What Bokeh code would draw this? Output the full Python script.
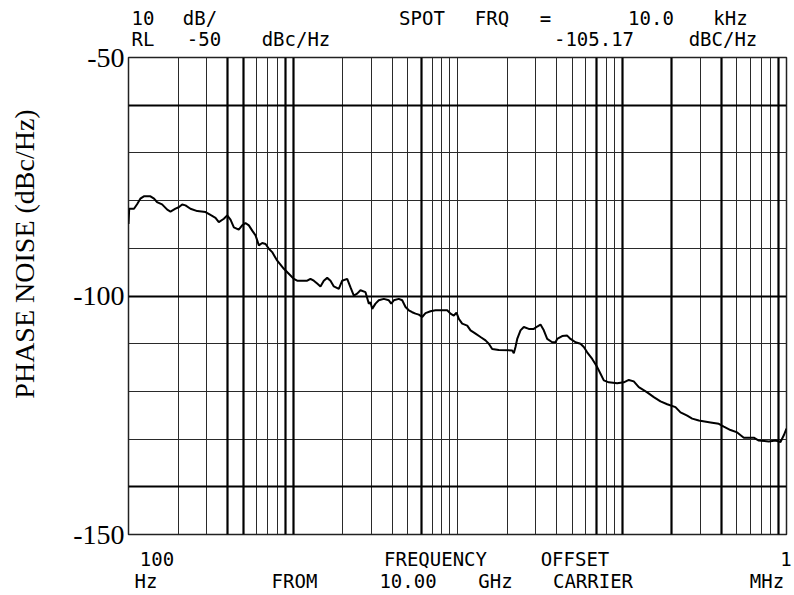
from bokeh.plotting import figure
from bokeh.models import FixedTicker, Grid, Range1d, LogAxis, LinearAxis
from bokeh.embed import file_html
from bokeh.resources import INLINE

# ---- data ----
freq_hz = [100, 101, 108, 113, 118, 124, 136, 143, 149, 160, 172, 180, 193, 202, 212, 222,
           238, 262, 294, 315, 338, 354, 380, 398, 417, 437, 468, 491, 514, 539, 565, 592,
           620, 650, 681, 713, 747, 802, 880, 966, 1011, 1060, 1220, 1277, 1338, 1403, 1469,
           1539, 1614, 1690, 1771, 1899, 1991, 2135, 2237, 2343, 2455, 2571, 2759, 2890, 2959,
           3030, 3173, 3324, 3565, 3823, 3954, 4101, 4396, 4611, 4830, 5058, 5304, 5555, 5820,
           6100, 6391, 6853, 7349, 8659, 9068, 9495, 9860, 10190, 10680, 11460, 12000, 12870,
           13800, 14800, 15500, 16250, 17820, 21500, 21990, 22520, 23070, 24160, 25300, 27130,
           29100, 30520, 31960, 33470, 35100, 37640, 39420, 40360, 43290, 46430, 48640, 52160,
           55940, 58600, 61430, 65900, 70680, 74030, 77520, 83140, 93500, 102600, 110000,
           117900, 126500, 142300, 156100, 171400, 188300, 211400, 226800, 249100, 267200,
           293000, 345100, 387700, 415700, 456500, 501500, 550200, 632700, 678500, 780500,
           857300, 919400, 962900, 1000000]
noise_dbc = [-84.9, -81.7, -81.7, -80.7, -79.6, -79.1, -79.1, -79.6, -80.3, -80.8, -81.9, -82.3,
             -81.7, -81.4, -80.8, -81.0, -81.7, -82.2, -82.4, -83.0, -83.6, -84.5, -83.8, -83.1,
             -84.0, -85.6, -86.1, -85.2, -84.7, -85.2, -86.3, -87.3, -89.4, -88.9, -89.1, -90.1,
             -90.8, -92.6, -94.3, -95.7, -96.4, -96.8, -96.8, -96.4, -96.8, -97.4, -98.0, -96.8,
             -96.2, -96.8, -98.0, -98.5, -96.8, -96.4, -98.2, -99.9, -99.5, -98.8, -99.2, -101.6,
             -101.3, -102.7, -101.6, -100.9, -100.6, -100.9, -101.6, -100.9, -100.6, -100.9,
             -102.3, -103.0, -103.4, -103.7, -103.9, -104.4, -103.6, -103.2, -103.0, -103.0,
             -103.7, -104.1, -103.5, -104.8, -105.8, -106.2, -107.2, -107.9, -108.6, -109.3,
             -110.0, -111.1, -111.3, -111.4, -112.0, -110.7, -109.0, -107.2, -106.5, -106.9,
             -106.9, -106.4, -106.0, -107.2, -109.0, -109.7, -109.7, -109.0, -108.4, -108.3,
             -109.0, -109.7, -110.0, -110.7, -111.8, -113.2, -114.9, -116.3, -117.7, -118.1,
             -118.3, -118.1, -117.6, -117.9, -119.1, -120.2, -121.2, -122.1, -122.7, -123.3,
             -124.4, -125.1, -125.7, -126.1, -126.5, -126.8, -127.4, -128.1, -128.6, -129.7,
             -129.7, -130.3, -130.5, -130.3, -130.6, -129.2, -127.8]

y_tick_values = [-150, -100, -50]
y_tick_labels = ["-150", "-100", "-50"]
y_title = "PHASE NOISE (dBc/Hz)"
grid_db_thick = [-140, -100, -60]
grid_db_thin = [-130, -120, -110, -90, -80, -70]
grid_hz_thick = [400, 500, 900, 1000, 6000, 70000, 100000, 200000, 400000, 900000]
grid_hz_all = [k * 10 ** d for d in range(2, 6) for k in range(1, 10)]
grid_hz_thin = [f for f in grid_hz_all if 100 < f < 1e6 and f not in grid_hz_thick]

# annotation rows: (text, pixel x centre in the picture)
header_row1 = [("10", 142.5), ("dB/", 199.5), ("SPOT", 421.5), ("FRQ", 491.5), ("=", 545),
               ("10.0", 650.5), ("kHz", 730)]
header_row2 = [("RL", 142.5), ("-50", 203.5), ("dBc/Hz", 295.5), ("-105.17", 593.5),
               ("dBC/Hz", 722.5)]
footer_row1 = [("100", 156.5), ("FREQUENCY", 435), ("OFFSET", 574.5), ("1", 785.5)]
footer_row2 = [("Hz", 145.5), ("FROM", 294), ("10.00", 407.5), ("GHz", 495),
               ("CARRIER", 592.5), ("MHz", 766.5)]

FRAME_LEFT = 128
DECADE_PX = 164.5


def px_to_hz(xi):
    return float("%.6g" % (10 ** (2 + (xi - FRAME_LEFT) / DECADE_PX)))


p = figure(width=794, height=595, x_axis_type="log",
           x_range=Range1d(100, 1e6), y_range=Range1d(-150, -50),
           output_backend="svg", toolbar_location=None,
           min_border_left=128, min_border_right=8, min_border_top=57, min_border_bottom=61)
p.title.visible = False
p.background_fill_color = "white"
p.border_fill_color = "white"
p.outline_line_color = "#222222"
p.outline_line_width = 1.5

p.xaxis.visible = False
yax = p.yaxis[0]
yax.ticker = FixedTicker(ticks=y_tick_values)
yax.major_label_overrides = {v: t for v, t in zip(y_tick_values, y_tick_labels)}
yax.major_label_text_font = "Liberation Serif"
yax.major_label_text_font_size = "28px"
yax.major_label_text_color = "black"
yax.major_tick_in = 0
yax.major_tick_out = 0
yax.minor_tick_in = 0
yax.minor_tick_out = 0
yax.axis_line_color = None
yax.major_label_standoff = 4

# y-axis title; leading no-break spaces lift it above the middle as in the reference
ytitle = LinearAxis(ticker=FixedTicker(ticks=[]),
                    axis_label="\u00a0" * 12 + y_title,
                    axis_label_text_font="Liberation Serif",
                    axis_label_text_font_size="28px",
                    axis_label_text_font_style="normal",
                    axis_label_text_color="black",
                    axis_label_standoff=31, axis_line_color=None,
                    major_tick_in=0, major_tick_out=0, minor_tick_in=0, minor_tick_out=0,
                    major_label_standoff=0)
p.add_layout(ytitle, "left")


def text_row(tokens, place, standoff):
    ticks = [px_to_hz(x) for _, x in tokens]
    ax = LogAxis(ticker=FixedTicker(ticks=ticks),
                 major_label_overrides={t: s for t, (s, _) in zip(ticks, tokens)},
                 major_label_text_font="DejaVu Sans Mono",
                 major_label_text_font_size="19px",
                 major_label_text_color="black",
                 major_label_standoff=standoff,
                 axis_line_color=None, major_tick_in=0, major_tick_out=0,
                 minor_tick_in=0, minor_tick_out=0)
    p.add_layout(ax, place)


text_row(header_row2, "above", 8)
text_row(header_row1, "above", -4)
text_row(footer_row1, "below", 13)
text_row(footer_row2, "below", -3)

p.xgrid.ticker = FixedTicker(ticks=grid_hz_thin)
p.xgrid.grid_line_color = "#2a2a2a"
p.xgrid.grid_line_width = 1
p.ygrid.ticker = FixedTicker(ticks=grid_db_thin)
p.ygrid.grid_line_color = "#2a2a2a"
p.ygrid.grid_line_width = 1

p.add_layout(Grid(dimension=0, ticker=FixedTicker(ticks=grid_hz_thick),
                  grid_line_color="black", grid_line_width=2.2))
p.add_layout(Grid(dimension=1, ticker=FixedTicker(ticks=grid_db_thick),
                  grid_line_color="black", grid_line_width=2.2))

p.line(freq_hz, noise_dbc, line_color="black", line_width=2)

open("out.html", "w").write(file_html(p, INLINE))
